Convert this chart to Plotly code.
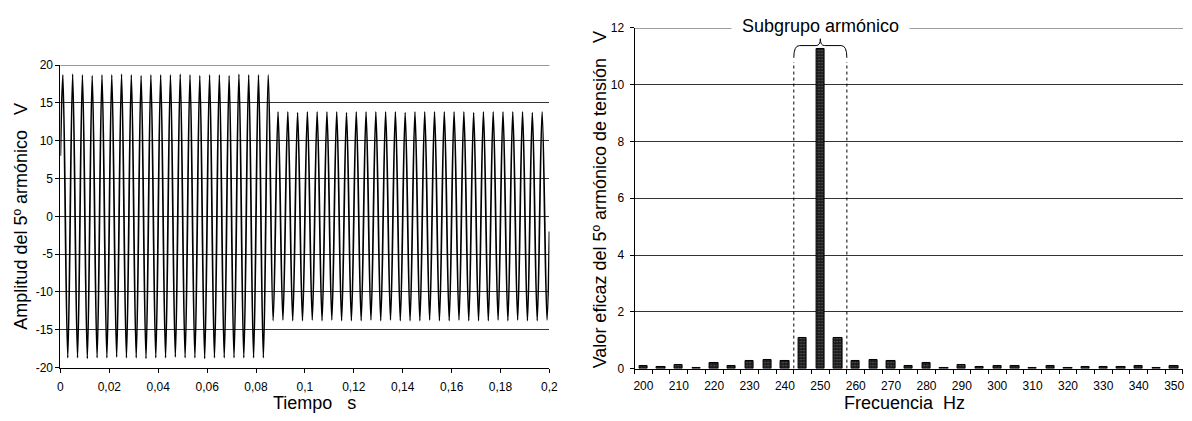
import plotly.graph_objects as go

# ---------------- data ----------------
wave_t = [0.0,
          0.001, 0.003, 0.005, 0.007, 0.009, 0.011, 0.013, 0.015, 0.017, 0.019,
          0.021, 0.023, 0.025, 0.027, 0.029, 0.031, 0.033, 0.035, 0.037, 0.039,
          0.041, 0.043, 0.045, 0.047, 0.049, 0.051, 0.053, 0.055, 0.057, 0.059,
          0.061, 0.063, 0.065, 0.067, 0.069, 0.071, 0.073, 0.075, 0.077, 0.079,
          0.081, 0.083, 0.085, 0.087, 0.089, 0.091, 0.093, 0.095, 0.097, 0.099,
          0.101, 0.103, 0.105, 0.107, 0.109, 0.111, 0.113, 0.115, 0.117, 0.119,
          0.121, 0.123, 0.125, 0.127, 0.129, 0.131, 0.133, 0.135, 0.137, 0.139,
          0.141, 0.143, 0.145, 0.147, 0.149, 0.151, 0.153, 0.155, 0.157, 0.159,
          0.161, 0.163, 0.165, 0.167, 0.169, 0.171, 0.173, 0.175, 0.177, 0.179,
          0.181, 0.183, 0.185, 0.187, 0.189, 0.191, 0.193, 0.195, 0.197, 0.199,
          0.2]
wave_v = [8.0,
          18.7, -18.7, 18.8, -18.7, 18.7, -18.8, 18.6, -18.7, 18.7, -18.7,
          18.7, -18.6, 18.8, -18.7, 18.7, -18.7, 18.6, -18.8, 18.7, -18.7,
          18.7, -18.7, 18.7, -18.6, 18.8, -18.7, 18.7, -18.7, 18.6, -18.8,
          18.7, -18.7, 18.7, -18.7, 18.6, -18.7, 18.8, -18.7, 18.7, -18.7,
          18.7, -18.7, 18.7, -13.8, 13.8, -13.7, 13.8, -13.8, 13.7, -13.8,
          13.8, -13.7, 13.8, -13.8, 13.8, -13.7, 13.8, -13.8, 13.7, -13.8,
          13.8, -13.8, 13.8, -13.7, 13.8, -13.8, 13.8, -13.7, 13.8, -13.8,
          13.7, -13.8, 13.8, -13.8, 13.8, -13.7, 13.8, -13.8, 13.8, -13.8,
          13.8, -13.7, 13.8, -13.8, 13.7, -13.8, 13.8, -13.8, 13.8, -13.7,
          13.8, -13.8, 13.8, -13.7, 13.8, -13.8, 13.7, -13.8, 13.8, -13.7,
          -2.0]
left_y_ticks = [-20, -15, -10, -5, 0, 5, 10, 15, 20]
left_y_labels = ["-20", "-15", "-10", "-5", "0", "5", "10", "15", "20"]
left_x_ticks = [0, 0.02, 0.04, 0.06, 0.08, 0.1, 0.12, 0.14, 0.16, 0.18, 0.2]
left_x_labels = ["0", "0,02", "0,04", "0,06", "0,08", "0,1", "0,12", "0,14", "0,16", "0,18", "0,2"]

# Right chart: spectrum in 5 Hz bins
freq_hz = [200, 205, 210, 215, 220, 225, 230, 235, 240, 245, 250, 255, 260, 265, 270, 275,
           280, 285, 290, 295, 300, 305, 310, 315, 320, 325, 330, 335, 340, 345, 350]
rms_v = [0.10, 0.07, 0.14, 0.02, 0.19, 0.10, 0.25, 0.30, 0.27, 1.07, 11.27, 1.07, 0.27, 0.30,
         0.25, 0.08, 0.19, 0.02, 0.13, 0.07, 0.09, 0.09, 0.03, 0.10, 0.02, 0.06, 0.05, 0.05,
         0.08, 0.03, 0.08]
right_x_ticks = [200, 210, 220, 230, 240, 250, 260, 270, 280, 290, 300, 310, 320, 330, 340, 350]
right_x_labels = [str(v) for v in right_x_ticks]
right_y_ticks = [0, 2, 4, 6, 8, 10, 12]
harmonic_hz = 250
bin_hz = 5
subgroup_lo = harmonic_hz - 1.5 * bin_hz
subgroup_hi = harmonic_hz + 1.5 * bin_hz

# ---------------- figure ----------------
W, H = 1192, 421
FONT = "Liberation Sans, Arial, Helvetica, sans-serif"
GRID = "#333333"
NB = "\u00a0"

fig = go.Figure()

fig.add_trace(go.Scatter(x=wave_t, y=wave_v, mode="lines", line=dict(color="black", width=1.7, shape="spline"),
                         xaxis="x", yaxis="y", hoverinfo="skip", showlegend=False))

fig.add_trace(go.Bar(x=freq_hz, y=rms_v, width=2.35, xaxis="x2", yaxis="y2", showlegend=False,
                     marker=dict(color="#1a1a1a", line=dict(color="black", width=1),
                                 pattern=dict(shape=".", fgcolor="#9a9a9a", bgcolor="#1a1a1a",
                                              size=3, solidity=0.25, fillmode="overlay"))))

axis_common = dict(showline=True, linecolor="black", linewidth=1, ticks="outside", ticklen=4,
                   tickcolor="black", tickfont=dict(family=FONT, size=12, color="black"),
                   zeroline=False, fixedrange=True)

fig.update_layout(
    width=W, height=H, margin=dict(l=0, r=0, t=0, b=0),
    paper_bgcolor="white", plot_bgcolor="white", font=dict(family=FONT, color="black"),
    xaxis=dict(axis_common, domain=[58 / W, 552 / W], range=[0, 0.2], anchor="y",
               tickmode="array", tickvals=left_x_ticks, ticktext=left_x_labels, showgrid=False,
               ticklabelstandoff=4),
    yaxis=dict(axis_common, domain=[1 - 373 / H, 1 - 60 / H], range=[-20, 20], anchor="x",
               tickmode="array", tickvals=left_y_ticks, ticktext=left_y_labels,
               showgrid=True, gridcolor=GRID, gridwidth=1),
    xaxis2=dict(axis_common, domain=[638 / W, 1.0], range=[subgroup_lo - 45, subgroup_hi + 95], anchor="y2",
                tickmode="array", tickvals=right_x_ticks, ticktext=right_x_labels, ticks="",
                showgrid=False, ticklabelstandoff=6,
                minor=dict(ticks="outside", ticklen=4, tickcolor="black", tick0=197.5, dtick=5, showgrid=False)),
    yaxis2=dict(axis_common, domain=[1 - 374 / H, 1 - 21.7 / H], range=[0, 12], anchor="x2",
                tickmode="array", tickvals=right_y_ticks, showgrid=True, gridcolor=GRID, gridwidth=1,
                ticklabelstandoff=3),
    bargap=0,
)

# top gridlines (at the upper range limit, which Plotly does not draw itself)
fig.add_shape(type="line", xref="x domain", yref="y", x0=0, x1=1, y0=max(left_y_ticks), y1=max(left_y_ticks),
              line=dict(color=GRID, width=1), layer="below")
fig.add_shape(type="line", xref="x2 domain", yref="y2", x0=0, x1=1, y0=max(right_y_ticks), y1=max(right_y_ticks),
              line=dict(color=GRID, width=1), layer="below")

# brace over the harmonic subgroup + dotted boundaries
mid = harmonic_hz
lo, hi = subgroup_lo, subgroup_hi
brace = (f"M {lo},10.95 Q {lo},11.38 {lo+1.6},11.38 L {mid-1.2},11.38 "
         f"Q {mid},11.38 {mid},11.62 Q {mid},11.38 {mid+1.2},11.38 "
         f"L {hi-1.6},11.38 Q {hi},11.38 {hi},10.95")
fig.add_shape(type="path", path=brace, xref="x2", yref="y2", line=dict(color="black", width=1))
for xb in (lo, hi):
    fig.add_shape(type="line", x0=xb, x1=xb, y0=0, y1=10.8, xref="x2", yref="y2",
                  line=dict(color="black", width=1, dash="dot"))

fig.add_annotation(x=harmonic_hz, y=12, xref="x2", yref="y2", text=NB * 2 + "Subgrupo armónico" + NB * 2,
                   showarrow=False, bgcolor="white", borderpad=0, yshift=2,
                   xanchor="center", yanchor="middle",
                   font=dict(family=FONT, size=18, color="black"))

# axis titles
title_font = dict(family=FONT, size=18, color="black")
common_title = dict(xref="paper", yref="paper", showarrow=False, font=title_font,
                    xanchor="center", yanchor="middle")
fig.add_annotation(x=18 / W, y=1 - 216 / H, textangle=-90,
                   text="Amplitud del 5º armónico" + NB * 3 + "V", **common_title)
fig.add_annotation(x=315 / W, y=1 - 410 / H,
                   text="Tiempo" + NB * 3 + "s", **common_title)
fig.add_annotation(x=603 / W, y=1 - 199 / H, textangle=-90,
                   text="Valor eficaz del 5º armónico de tensión" + NB * 3 + "V", **common_title)
fig.add_annotation(x=911 / W, y=1 - 410 / H,
                   text="Frecuencia" + NB * 2 + "Hz", **common_title)

fig.write_html("out.html", config={"displayModeBar": False})
